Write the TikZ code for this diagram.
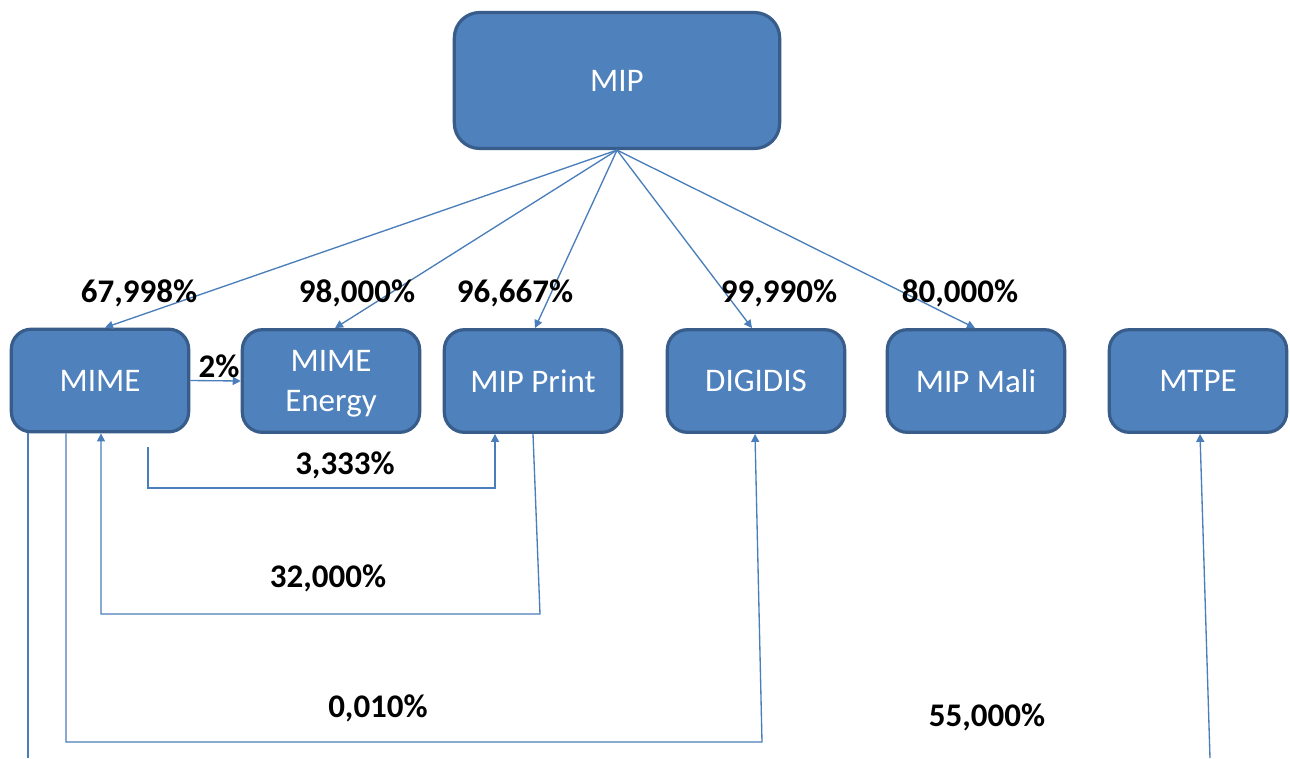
\documentclass[tikz,border=0pt]{standalone}
\usepackage{fontspec}
\setmainfont{Carlito}
\usetikzlibrary{arrows.meta,calc}
\definecolor{boxfill}{HTML}{4F81BD}
\definecolor{boxline}{HTML}{385D8A}
\definecolor{conncol}{HTML}{4A7EBB}
\begin{document}
\begin{tikzpicture}[x=0.75pt,y=-0.75pt,
  box/.style={draw=boxline, line width=2.4pt, fill=boxfill, rounded corners=15pt,
    minimum width=133pt, minimum height=77pt, text=white,
    font=\fontsize{24.75}{29.8}\selectfont, align=center, inner sep=0pt},
  pct/.style={font=\bfseries\fontsize{24.75}{30}\selectfont, text=black, inner sep=0pt},
  conn/.style={draw=conncol, line width=1pt},
  arr/.style={conn, -{Triangle[length=6pt,width=6pt]}}]
\useasboundingbox[fill=white] (0,0) rectangle (1290,758);

\node[box, minimum width=244pt, minimum height=102pt, rounded corners=19pt] (mip) at (617,80.5) {MIP};
\node[box] (mime) at (100,380.5) {MIME};
\node[box, text depth=0pt] (energy) at (331,381) {MIME\\Energy};
\node[box] (print) at (533,381) {MIP Print};
\node[box] (digidis) at (756,381) {DIGIDIS};
\node[box] (mali) at (976,381) {MIP Mali};
\node[box] (mtpe) at (1198,381) {MTPE};

% from MIP
\draw[arr] (mip.south) -- ([xshift=3.75pt]mime.north);
\draw[arr] (mip.south) -- ([xshift=3pt]energy.north);
\draw[arr] (mip.south) -- ([xshift=1.5pt]print.north);
\draw[arr] (mip.south) -- ([xshift=-3pt]digidis.north);
\draw[arr] (mip.south) -- ([xshift=-0.75pt]mali.north);

% MIME -> MIME Energy
\draw[arr] (mime.east) -- (energy.west);

% MIME -> MIP Print (3,333%)
\coordinate (a0) at (148,447);
\coordinate (a1) at (148,488);
\draw[arr] (a0) -- (a1) -| ([xshift=-28.5pt]print.south);

% MIP Print -> MIME (32,000%)
\coordinate (b1) at (540,614);
\draw[arr] (print.south) -- (b1) -| ([xshift=0.75pt]mime.south);

% MIME -> DIGIDIS (0,010%)
\coordinate (c1) at (66,742);
\coordinate (c2) at (762,742);
\draw[arr] ([xshift=-25.5pt]mime.south) -- (c1) -- (c2) -- ([xshift=-0.75pt]digidis.south);

% MIME -> off page (55,000%)
\coordinate (d1) at (28,758);
\draw[conn] ([xshift=-54pt]mime.south) -- (d1);

% off page -> MTPE
\coordinate (e1) at (1210,758);
\draw[arr] (e1) -- ([xshift=1.5pt]mtpe.south);

% labels
\node[pct] (l1) at (139,293) {67,998\%};
\node[pct] (l2) at (357,293) {98,000\%};
\node[pct] (l3) at (515,293) {96,667\%};
\node[pct] (l4) at (779,293) {99,990\%};
\node[pct] (l5) at (960,293) {80,000\%};
\node[pct] (l6) at (219,366) {2\%};
\node[pct] (l7) at (345,465) {3,333\%};
\node[pct] (l8) at (328,578) {32,000\%};
\node[pct] (l9) at (378,708) {0,010\%};
\node[pct] (l10) at (987,717) {55,000\%};
\end{tikzpicture}
\end{document}
